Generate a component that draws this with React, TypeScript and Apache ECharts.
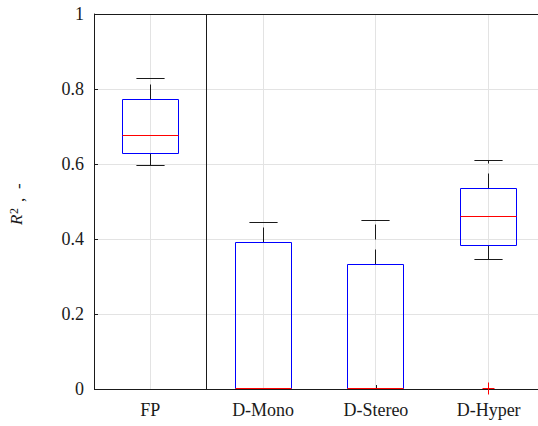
import React, { useEffect, useRef } from "react";
import * as echarts from "echarts";

const categories = ["FP", "D-Mono", "D-Stereo", "D-Hyper"];
const whiskerLow = [0.595, 0, 0, 0.344];
const quartile1 = [0.629, 0, 0, 0.383];
const medians = [0.677, 0, 0, 0.459];
const quartile3 = [0.771, 0.391, 0.333, 0.535];
const whiskerHigh = [0.829, 0.443, 0.448, 0.609];
const outliers: number[][] = [[3, 0]];
const yMin = 0;
const yMax = 1;
const yInterval = 0.2;
const separatorAfterIndex = 0;

const FONT = "Liberation Serif";
const INK = "#1a1a1a";

const crisp = (v: number) => Math.round(v - 0.5) + 0.5;
const crispY = (v: number) => Math.ceil(v - 0.01) - 0.5;

const titleText = (text: string, x: number, y: number, size: number, italic = false) => ({
  type: "text",
  x,
  y,
  style: {
    text,
    fontSize: size,
    fontFamily: FONT,
    fontStyle: italic ? "italic" : "normal",
    fill: INK,
    align: "left",
    verticalAlign: "bottom",
  },
});

export default function App() {
  const ref = useRef<HTMLDivElement>(null);
  useEffect(() => {
    if (!ref.current) return;
    const chart = echarts.init(ref.current, undefined, { renderer: "svg" });
    const boxData = categories.map((_, i) => [
      i,
      whiskerLow[i],
      quartile1[i],
      medians[i],
      quartile3[i],
      whiskerHigh[i],
    ]);
    const option: any = {
      animation: false,
      backgroundColor: "#ffffff",
      grid: { left: 94, top: 14, width: 451, height: 375 },
      graphic: [
        {
          type: "group",
          x: 25,
          y: 225,
          rotation: Math.PI / 2,
          children: [
            titleText("R", 0, 0, 17, true),
            titleText("2", 11, -5, 12),
            titleText(",", 23, 2, 17),
            titleText("-", 36, 2, 17),
          ],
        },
      ],
      xAxis: {
        type: "category",
        data: categories,
        position: "bottom",
        axisLine: { show: false, onZero: false },
        axisTick: { show: true, inside: true, length: 4, alignWithLabel: true, lineStyle: { color: INK } },
        axisLabel: { fontFamily: FONT, fontSize: 18, color: INK, margin: 12 },
        splitLine: { show: false },
      },
      yAxis: {
        type: "value",
        min: yMin,
        max: yMax,
        interval: yInterval,
        axisLine: { show: true, onZero: false, lineStyle: { color: INK, width: 1 } },
        axisTick: { show: true, inside: true, length: 4, lineStyle: { color: INK } },
        axisLabel: { fontFamily: FONT, fontSize: 18, color: INK, margin: 10 },
        splitLine: { show: true, lineStyle: { color: "#e3e3e3", width: 1 } },
      },
      series: [
        {
          type: "custom",
          z: 1,
          clip: false,
          silent: true,
          data: categories.map((_, i) => [i]),
          encode: { x: 0 },
          renderItem: (params: any, api: any) => {
            const i = api.value(0);
            const p0 = api.coord([i, yMin]);
            const p1 = api.coord([i, yMax]);
            const x = crisp(p0[0]);
            return {
              type: "line",
              shape: { x1: x, y1: p0[1], x2: x, y2: p1[1] },
              style: { stroke: "#e3e3e3", lineWidth: 1 },
            };
          },
        },
        {
          type: "custom",
          z: 2,
          clip: false,
          silent: true,
          data: [[separatorAfterIndex]],
          encode: { x: 0 },
          renderItem: (params: any, api: any) => {
            const i = api.value(0);
            const a = api.coord([i, yMin]);
            const b = api.coord([i + 1, yMax]);
            const x = crisp((a[0] + b[0]) / 2);
            const cs = params.coordSys;
            const yb = crisp(a[1]);
            const yt = crisp(b[1]);
            return {
              type: "group",
              children: [
                {
                  type: "line",
                  shape: { x1: x, y1: yb, x2: x, y2: yt },
                  style: { stroke: INK, lineWidth: 1 },
                },
                {
                  type: "line",
                  shape: { x1: cs.x, y1: yb, x2: cs.x + cs.width, y2: yb },
                  style: { stroke: INK, lineWidth: 1 },
                },
                {
                  type: "line",
                  shape: { x1: cs.x, y1: yt, x2: cs.x + cs.width, y2: yt },
                  style: { stroke: INK, lineWidth: 1 },
                },
              ],
            };
          },
        },
        {
          type: "custom",
          z: 10,
          clip: false,
          silent: true,
          data: boxData,
          encode: { x: 0, y: [1, 2, 3, 4, 5] },
          renderItem: (params: any, api: any) => {
            const i = api.value(0);
            const bandW = api.size([1, 0])[0];
            const boxW = bandW * 0.5;
            const capW = bandW * 0.25;
            const x = crisp(api.coord([i, 0])[0]);
            const yl = crispY(api.coord([i, api.value(1)])[1]);
            const y1 = crispY(api.coord([i, api.value(2)])[1]);
            const ym = crispY(api.coord([i, api.value(3)])[1]);
            const y3 = crispY(api.coord([i, api.value(4)])[1]);
            const yh = crispY(api.coord([i, api.value(5)])[1]);
            const bl = crisp(x - boxW / 2);
            const br = crisp(x + boxW / 2);
            const children: any[] = [];
            const dash = [15, 10];
            if (Math.abs(y3 - yh) > 0.5) {
              children.push({
                type: "line",
                shape: { x1: x, y1: y3, x2: x, y2: yh },
                style: { stroke: INK, lineWidth: 1, lineDash: dash },
              });
            }
            if (Math.abs(y1 - yl) > 0.5) {
              children.push({
                type: "line",
                shape: { x1: x, y1: y1, x2: x, y2: yl },
                style: { stroke: INK, lineWidth: 1, lineDash: dash },
              });
              children.push({
                type: "line",
                shape: { x1: x - capW / 2, y1: yl, x2: x + capW / 2, y2: yl },
                style: { stroke: INK, lineWidth: 1 },
              });
            }
            children.push({
              type: "line",
              shape: { x1: x - capW / 2, y1: yh, x2: x + capW / 2, y2: yh },
              style: { stroke: INK, lineWidth: 1 },
            });
            children.push({
              type: "rect",
              shape: { x: bl, y: y3, width: br - bl, height: y1 - y3 },
              style: { fill: "none", stroke: "#0000ff", lineWidth: 1 },
            });
            children.push({
              type: "line",
              z2: 5,
              shape: { x1: bl, y1: ym, x2: br, y2: ym },
              style: { stroke: "#ff0000", lineWidth: 1 },
            });
            return { type: "group", children };
          },
        },
        {
          type: "custom",
          z: 11,
          clip: false,
          silent: true,
          data: outliers,
          encode: { x: 0, y: 1 },
          renderItem: (params: any, api: any) => {
            const p = api.coord([api.value(0), api.value(1)]);
            const cx = crisp(p[0]);
            const cy = crispY(p[1]);
            const h = 6;
            return {
              type: "group",
              children: [
                {
                  type: "line",
                  shape: { x1: cx - h, y1: cy, x2: cx + h, y2: cy },
                  style: { stroke: "#ff0000", lineWidth: 1 },
                },
                {
                  type: "line",
                  shape: { x1: cx, y1: cy - h, x2: cx, y2: cy + h },
                  style: { stroke: "#ff0000", lineWidth: 1 },
                },
              ],
            };
          },
        },
      ],
    };
    chart.setOption(option);
    return () => chart.dispose();
  }, []);
  return (
    <div
      style={{ position: "absolute", left: 0, top: 0, width: 538, height: 426, overflow: "hidden", background: "#fff" }}
    >
      <div ref={ref} style={{ width: 546, height: 426 }} />
    </div>
  );
}
